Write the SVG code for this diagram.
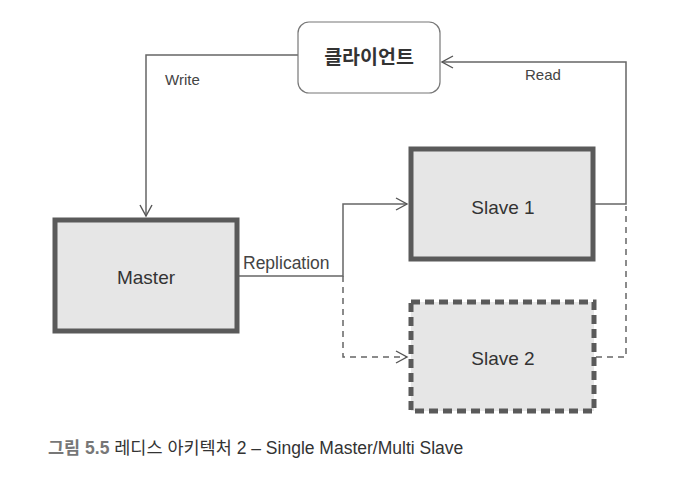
<svg xmlns="http://www.w3.org/2000/svg" width="675" height="477" viewBox="0 0 675 477">
<defs>
<marker id="arr" markerWidth="14" markerHeight="14" refX="12" refY="7" orient="auto" markerUnits="userSpaceOnUse">
<path d="M1,1 L12,7 L1,13" fill="none" stroke="#555" stroke-width="1.4"/>
</marker>
<style>
.line{fill:none;stroke:#666;stroke-width:1.5}
.dash{fill:none;stroke:#666;stroke-width:1.5;stroke-dasharray:6,5}
.box{fill:#e6e6e6;stroke:#5a5a5a;stroke-width:5}
.lbl{font-family:"Liberation Sans",Arial,sans-serif;font-size:15px;fill:#444}
.nlbl{font-family:"Liberation Sans",Arial,sans-serif;font-size:19px;fill:#333;text-anchor:middle}
</style>
</defs>
<rect width="675" height="477" fill="#fff"/>
<g id="connectors">
<path class="line" d="M298,55 H146 V216" marker-end="url(#arr)"/>
<path class="line" d="M595,204 H626 V62 H442" marker-end="url(#arr)"/>
<path class="line" d="M239,276 H343 V204 H407" marker-end="url(#arr)"/>
<path class="dash" d="M343,276 V357 H407" marker-end="url(#arr)"/>
<path class="dash" d="M596,357 H626 V206"/>
<text class="lbl" x="165" y="85">Write</text>
<text class="lbl" x="525" y="80">Read</text>
<text class="lbl" x="243" y="269" style="font-size:17.5px">Replication</text>
</g>
<g id="client">
<rect x="298" y="22" width="142" height="71" rx="11" fill="#fff" stroke="#777" stroke-width="1.2"/>
<text x="369" y="64" text-anchor="middle" font-family="'Noto Sans CJK KR',sans-serif" font-size="19.5" font-weight="bold" fill="#333">클라이언트</text>
</g>
<g id="master">
<rect class="box" x="55" y="220" width="182" height="111"/>
<text class="nlbl" x="146" y="284">Master</text>
</g>
<g id="slave1">
<rect class="box" x="411" y="149" width="182" height="110"/>
<text class="nlbl" x="503" y="214">Slave 1</text>
</g>
<g id="slave2">
<rect class="box" x="411" y="302" width="183" height="109" style="stroke-dasharray:9,5"/>
<text class="nlbl" x="503" y="365">Slave 2</text>
</g>
<g id="caption">
<text x="48" y="454" font-family="'Liberation Sans','Noto Sans CJK KR',sans-serif" font-size="17.5" fill="#333"><tspan fill="#777" font-weight="bold">그림 5.5</tspan> 레디스 아키텍처 2 – Single Master/Multi Slave</text>
</g>
</svg>
